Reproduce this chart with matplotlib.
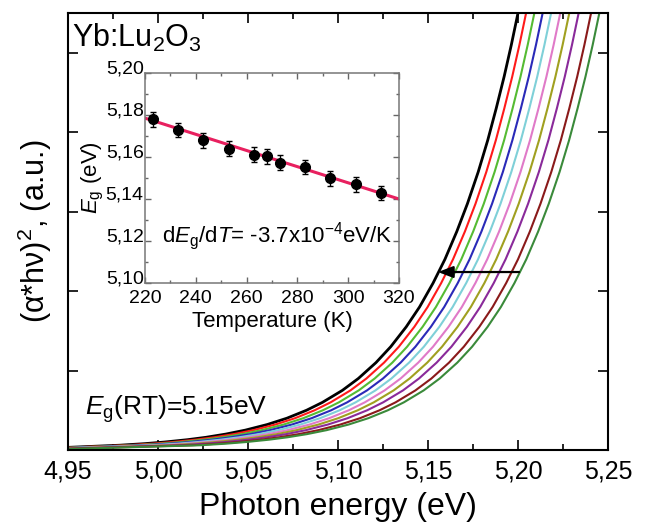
import numpy as np
import matplotlib
matplotlib.use("Agg")
import matplotlib.pyplot as plt
from matplotlib.ticker import MultipleLocator

plt.rcParams['font.family'] = ['Liberation Sans', 'DejaVu Sans']
plt.rcParams['mathtext.fontset'] = 'custom'
plt.rcParams['mathtext.rm'] = 'Liberation Sans'
plt.rcParams['mathtext.it'] = 'Liberation Sans:italic'
plt.rcParams['mathtext.bf'] = 'Liberation Sans:bold'

# ---- main panel data: absorption edge curves (photon energy in eV vs (alpha*h*nu)^2, a.u.)
curve_y = [0.06, 0.08, 0.1, 0.13, 0.16, 0.2, 0.25, 0.32, 0.4, 0.5, 0.6, 0.75, 0.9,
           1.1, 1.3, 1.55, 1.8, 2.1, 2.4, 2.75, 3.1, 3.5, 3.9, 4.3, 4.7, 5.1, 5.5]
start_E = 4.95
start_y = [0.033, 0.030, 0.028, 0.025, 0.023, 0.021, 0.019, 0.017, 0.015, 0.013]

E_black = [4.9786, 4.9927, 5.0036, 5.0165, 5.0267, 5.0376, 5.0485, 5.0606, 5.0716, 5.0825, 5.0914, 5.1024, 5.1113, 5.1211, 5.1293, 5.1379, 5.1453, 5.1528, 5.1594, 5.1660, 5.1719, 5.1779, 5.1832, 5.1879, 5.1923, 5.1963, 5.2000]
E_red = [4.9831, 4.9972, 5.0081, 5.0210, 5.0312, 5.0421, 5.0530, 5.0651, 5.0761, 5.0870, 5.0959, 5.1069, 5.1158, 5.1256, 5.1338, 5.1424, 5.1498, 5.1573, 5.1639, 5.1705, 5.1764, 5.1824, 5.1877, 5.1924, 5.1968, 5.2008, 5.2045]
E_green = [4.9877, 5.0018, 5.0127, 5.0256, 5.0358, 5.0467, 5.0576, 5.0697, 5.0807, 5.0916, 5.1005, 5.1115, 5.1204, 5.1302, 5.1384, 5.1470, 5.1544, 5.1619, 5.1685, 5.1751, 5.1810, 5.1870, 5.1923, 5.1970, 5.2014, 5.2054, 5.2091]
E_blue = [4.9923, 5.0064, 5.0173, 5.0302, 5.0404, 5.0513, 5.0622, 5.0743, 5.0853, 5.0962, 5.1051, 5.1161, 5.1250, 5.1348, 5.1430, 5.1516, 5.1590, 5.1665, 5.1731, 5.1797, 5.1856, 5.1916, 5.1969, 5.2016, 5.2060, 5.2100, 5.2137]
E_cyan = [4.9970, 5.0111, 5.0220, 5.0349, 5.0451, 5.0560, 5.0669, 5.0790, 5.0900, 5.1009, 5.1098, 5.1208, 5.1297, 5.1395, 5.1477, 5.1563, 5.1637, 5.1712, 5.1778, 5.1844, 5.1903, 5.1963, 5.2016, 5.2063, 5.2107, 5.2147, 5.2184]
E_pink = [5.0021, 5.0162, 5.0271, 5.0400, 5.0502, 5.0611, 5.0720, 5.0841, 5.0951, 5.1060, 5.1149, 5.1259, 5.1348, 5.1446, 5.1528, 5.1614, 5.1688, 5.1763, 5.1829, 5.1895, 5.1954, 5.2014, 5.2067, 5.2114, 5.2158, 5.2198, 5.2235]
E_olive = [5.0071, 5.0212, 5.0321, 5.0450, 5.0552, 5.0661, 5.0770, 5.0891, 5.1001, 5.1110, 5.1199, 5.1309, 5.1398, 5.1496, 5.1578, 5.1664, 5.1738, 5.1813, 5.1879, 5.1945, 5.2004, 5.2064, 5.2117, 5.2164, 5.2208, 5.2248, 5.2285]
E_purple = [5.0123, 5.0264, 5.0373, 5.0502, 5.0604, 5.0713, 5.0822, 5.0943, 5.1053, 5.1162, 5.1251, 5.1361, 5.1450, 5.1548, 5.1630, 5.1716, 5.1790, 5.1865, 5.1931, 5.1997, 5.2056, 5.2116, 5.2169, 5.2216, 5.2260, 5.2300, 5.2337]
E_brown = [5.0192, 5.0333, 5.0442, 5.0571, 5.0673, 5.0782, 5.0891, 5.1012, 5.1122, 5.1231, 5.1320, 5.1430, 5.1519, 5.1617, 5.1699, 5.1785, 5.1859, 5.1934, 5.2000, 5.2066, 5.2125, 5.2185, 5.2238, 5.2285, 5.2329, 5.2369, 5.2406]
E_dkgreen = [5.0238, 5.0379, 5.0488, 5.0617, 5.0719, 5.0828, 5.0937, 5.1058, 5.1168, 5.1277, 5.1366, 5.1476, 5.1565, 5.1663, 5.1745, 5.1831, 5.1905, 5.1980, 5.2046, 5.2112, 5.2171, 5.2231, 5.2284, 5.2331, 5.2375, 5.2415, 5.2452]

curves = [E_black, E_red, E_green, E_blue, E_cyan, E_pink, E_olive, E_purple, E_brown, E_dkgreen]
colors = ['#000000', '#ff1a1a', '#55bb33', '#2a2ab8', '#7fd0d8', '#e07ac8',
          '#a0a020', '#8a2a9a', '#8a1a1a', '#3a8a3a']
widths = [2.0, 1.5, 1.5, 1.5, 1.5, 1.5, 1.5, 1.5, 1.5, 1.5]

arrow_start = (5.2006, 2.24)
arrow_end = (5.1556, 2.24)

xticks_main = [4.95, 5.00, 5.05, 5.10, 5.15, 5.20, 5.25]
xticklabels_main = ['4,95', '5,00', '5,05', '5,10', '5,15', '5,20', '5,25']

# ---- inset data
T = [223, 233, 243, 253, 263, 268, 273, 283, 293, 303, 313]
Eg = [5.178, 5.1728, 5.168, 5.164, 5.1611, 5.1603, 5.1573, 5.1552, 5.1499, 5.147, 5.1429]
Eg_err = [0.0035] * len(T)
fit_T = [220, 320]
fit_E = [5.1785, 5.1400]
inset_xticks = [220, 240, 260, 280, 300, 320]
inset_yticks = [5.10, 5.12, 5.14, 5.16, 5.18, 5.20]
inset_yticklabels = ['5,10', '5,12', '5,14', '5,16', '5,18', '5,20']

fig = plt.figure(figsize=(6.46, 5.28), dpi=100)
ax = fig.add_axes([68/646, 1-450/528, 540/646, 437/528])

for Ec, y0, c, lw in zip(curves, start_y, colors, widths):
    ax.plot([start_E] + Ec, [y0] + curve_y, color=c, lw=lw,
            solid_joinstyle='round')

ax.annotate('', xy=arrow_end, xytext=arrow_start,
            arrowprops=dict(arrowstyle='-|>,head_length=0.9,head_width=0.35',
                            color='black', lw=1.6, shrinkA=0, shrinkB=0))

ax.set_xlim(4.95, 5.25)
ax.set_ylim(0, 5.5)
ax.set_xticks(xticks_main)
ax.set_xticklabels(xticklabels_main)
ax.xaxis.set_minor_locator(MultipleLocator(0.025))
ax.yaxis.set_major_locator(MultipleLocator(1))
ax.tick_params(which='both', direction='in', top=True, right=True, width=1.2)
ax.tick_params(which='major', length=7, labelsize=18, pad=7)
ax.tick_params(which='minor', length=4)
ax.tick_params(axis='y', which='both', labelleft=False)
for sp in ax.spines.values():
    sp.set_linewidth(1.5)
ax.set_xlabel('Photon energy (eV)', fontsize=23, labelpad=6)
ax.set_ylabel('(α*hν)$^2$, (a.u.)', fontsize=22, labelpad=10)

ax.text(0.008, 0.943, 'Yb:Lu$_2$O$_3$', transform=ax.transAxes, fontsize=22,
        ha='left', va='center')
ax.text(0.031, 0.08, '$E_\\mathrm{g}$(RT)=5.15eV', transform=ax.transAxes,
        fontsize=19, ha='left', va='baseline')

# ---- inset
axi = fig.add_axes([145/646, 1-283/528, 254/646, 210/528])
axi.set_facecolor('white')
axi.plot(fit_T, fit_E, color='#e8205f', lw=2.2, zorder=2)
axi.errorbar(T, Eg, yerr=Eg_err, fmt='o', color='black', ms=7, elinewidth=1,
             capsize=2, capthick=1, zorder=3)
axi.set_xlim(220, 320)
axi.set_ylim(5.10, 5.20)
axi.set_xticks(inset_xticks)
axi.set_yticks(inset_yticks)
axi.set_yticklabels(inset_yticklabels)
axi.xaxis.set_minor_locator(MultipleLocator(10))
axi.yaxis.set_minor_locator(MultipleLocator(0.01))
axi.tick_params(which='both', direction='in', top=True, right=True,
                color='#666666', width=1)
axi.tick_params(which='major', length=4)
axi.tick_params(which='minor', length=2)
axi.tick_params(axis='x', which='major', labelsize=14, pad=5)
axi.tick_params(axis='y', which='major', labelsize=14, pad=1)
for lbl in axi.get_yticklabels():
    lbl.set_verticalalignment('baseline')
for sp in axi.spines.values():
    sp.set_color('#777777')
    sp.set_linewidth(1.1)
axi.set_xlabel('Temperature (K)', fontsize=16, labelpad=3)
axi.set_ylabel('$E_\\mathrm{g}$ (eV)', fontsize=16, labelpad=0)
axi.text(272, 5.1226, 'd$E_\\mathrm{g}$/d$T$= -3.7x10$^{-4}$eV/K',
         fontsize=16, ha='center', va='center')

fig.savefig('out.png', dpi=100)
